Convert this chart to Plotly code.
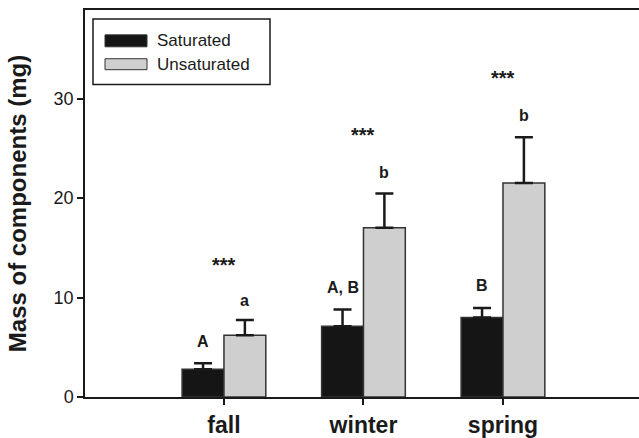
import plotly.graph_objects as go

seasons = ["fall", "winter", "spring"]
saturated = [2.8, 7.1, 8.0]
saturated_err = [0.6, 1.7, 0.95]
unsaturated = [6.2, 17.0, 21.5]
unsaturated_err = [1.55, 3.45, 4.6]
sat_labels = ["A", "A, B", "B"]
unsat_labels = ["a", "b", "b"]
sig_labels = ["***", "***", "***"]
sig_y = [13.3, 26.3, 32.1]
sat_label_y = [5.6, 11.0, 11.2]
unsat_label_y = [9.7, 22.6, 28.3]

FONT = "Liberation Sans, Arial, sans-serif"
INK = "#1a1a1a"
xs = list(range(len(seasons)))

W, H = 639, 438
ML, MR, MT, MB = 85, 0, 10, 39

fig = go.Figure()
fig.add_trace(go.Bar(
    x=xs, y=saturated, name="Saturated",
    marker=dict(color="#151515", line=dict(color="#333333", width=1.5)),
    error_y=dict(type="data", array=saturated_err, arrayminus=[0]*3, symmetric=False,
                 color=INK, thickness=2.5, width=9),
    showlegend=False,
))
fig.add_trace(go.Bar(
    x=xs, y=unsaturated, name="Unsaturated",
    marker=dict(color="#cfcfcf", line=dict(color="#333333", width=1.5)),
    error_y=dict(type="data", array=unsaturated_err, arrayminus=[0]*3, symmetric=False,
                 color=INK, thickness=2.5, width=9),
    showlegend=False,
))

off = 0.15
for i in xs:
    fig.add_annotation(x=i, y=sig_y[i], text="<b>%s</b>" % sig_labels[i], showarrow=False,
                       font=dict(family=FONT, size=20, color=INK), yanchor="middle")
    fig.add_annotation(x=i - off, y=sat_label_y[i], text="<b>%s</b>" % sat_labels[i], showarrow=False,
                       font=dict(family=FONT, size=16, color=INK), yanchor="middle")
    fig.add_annotation(x=i + off, y=unsat_label_y[i], text="<b>%s</b>" % unsat_labels[i], showarrow=False,
                       font=dict(family=FONT, size=16, color=INK), yanchor="middle")

# manual legend (box + wide swatches); paper coords are relative to the plot area
def px(x): return (x - ML) / (W - ML - MR)
def py(y): return 1 - (y - MT) / (H - MT - MB)
fig.add_shape(type="rect", xref="paper", yref="paper", x0=px(93), y0=py(85), x1=px(270), y1=py(19),
              line=dict(color=INK, width=1.5), fillcolor="white")
fig.add_shape(type="rect", xref="paper", yref="paper", x0=px(105), y0=py(47), x1=px(147), y1=py(35),
              line=dict(color="#333333", width=1), fillcolor="#151515")
fig.add_shape(type="rect", xref="paper", yref="paper", x0=px(105), y0=py(70), x1=px(147), y1=py(59),
              line=dict(color="#333333", width=1), fillcolor="#cfcfcf")
fig.add_annotation(xref="paper", yref="paper", x=px(155), y=py(41), text="Saturated", showarrow=False,
                   xanchor="left", yanchor="middle", font=dict(family=FONT, size=17, color=INK))
fig.add_annotation(xref="paper", yref="paper", x=px(155), y=py(65), text="Unsaturated", showarrow=False,
                   xanchor="left", yanchor="middle", font=dict(family=FONT, size=17, color=INK))

fig.update_layout(
    width=W, height=H,
    margin=dict(l=ML, r=MR, t=MT, b=MB),
    paper_bgcolor="white", plot_bgcolor="white",
    barmode="group", bargap=0.4, bargroupgap=0,
    font=dict(family=FONT, color=INK),
    xaxis=dict(range=[-0.996, 2.975], tickvals=xs, ticktext=["<b>%s</b>" % s for s in seasons],
               tickfont=dict(family=FONT, size=23, color=INK),
               showline=True, linecolor=INK, linewidth=2, mirror=True,
               ticks="outside", ticklen=6, tickwidth=1.5, tickcolor=INK,
               showgrid=False, zeroline=False),
    yaxis=dict(range=[0, 38.9], tickvals=[0, 10, 20, 30],
               tickfont=dict(family=FONT, size=18, color=INK),
               showline=True, linecolor=INK, linewidth=1.5,
               ticks="outside", ticklen=6, tickwidth=1.5, tickcolor=INK,
               showgrid=False, zeroline=False,
               title=dict(text="<b>Mass of components (mg)</b>", standoff=20,
                          font=dict(family=FONT, size=24, color=INK))),
)

fig.write_html("out.html")
